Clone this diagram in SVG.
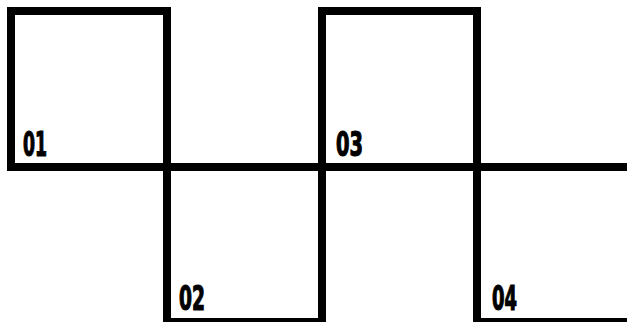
<svg xmlns="http://www.w3.org/2000/svg" width="627" height="322" viewBox="0 0 627 322">
<style>
.box{fill:none;stroke:#000;stroke-width:8;stroke-linejoin:miter}
.lbl{font-family:"Liberation Sans Narrow","DejaVu Sans Condensed","Liberation Sans",sans-serif;font-weight:bold;font-size:33px;fill:#000;stroke:#000;stroke-width:1.2}
</style>
<rect width="627" height="322" fill="#fff"/>
<g id="connectors">
<line x1="7" y1="167" x2="627" y2="167" stroke="#000" stroke-width="8"/>
</g>
<g id="node01">
<rect class="box" x="11" y="11" width="156" height="156"/>
<text class="lbl" x="23" y="156" textLength="24" lengthAdjust="spacingAndGlyphs">01</text>
</g>
<g id="node02">
<rect class="box" x="167" y="167" width="155" height="155"/>
<text class="lbl" x="179" y="310" textLength="26" lengthAdjust="spacingAndGlyphs">02</text>
</g>
<g id="node03">
<rect class="box" x="322" y="11" width="155" height="156"/>
<text class="lbl" x="336" y="156" textLength="27" lengthAdjust="spacingAndGlyphs">03</text>
</g>
<g id="node04">
<rect class="box" x="477" y="167" width="160" height="155"/>
<text class="lbl" x="492" y="310" textLength="25" lengthAdjust="spacingAndGlyphs">04</text>
</g>
</svg>
